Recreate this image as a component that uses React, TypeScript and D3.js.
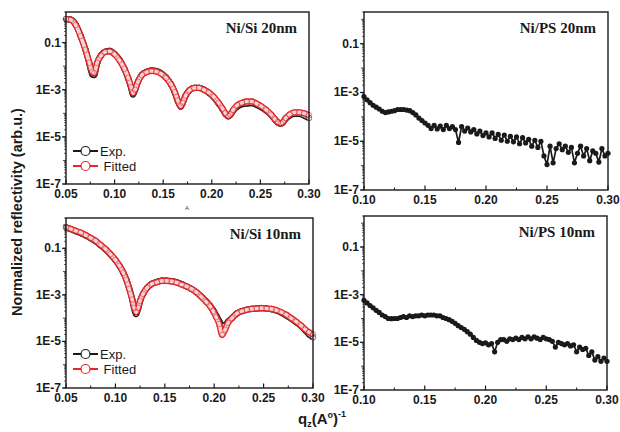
import React from 'react';
import * as d3 from 'd3';

// Ni/Si 20nm, Exp. + fitted
const qSi20 = [0.050, 0.055, 0.060, 0.065, 0.070, 0.074, 0.077, 0.079, 0.082, 0.086, 0.090, 0.095,
	0.100, 0.105, 0.110, 0.114, 0.117, 0.119, 0.121, 0.124, 0.128, 0.133, 0.138, 0.143, 0.148, 0.153,
	0.158, 0.162, 0.165, 0.168, 0.170, 0.173, 0.177, 0.182, 0.187, 0.192, 0.197, 0.202, 0.207, 0.211,
	0.214, 0.217, 0.219, 0.222, 0.226, 0.231, 0.236, 0.241, 0.246, 0.251, 0.256, 0.261, 0.265, 0.268,
	0.271, 0.273, 0.276, 0.280, 0.285, 0.290, 0.295, 0.300];
const expSi20 = [1.0, 0.95, 0.58, 0.2, 0.052, 0.013, 4.5e-3, 4.2e-3, 0.013, 0.029, 0.041, 0.045,
	0.033, 0.019, 8.0e-3, 3.0e-3, 1.2e-3, 6.3e-4, 9.5e-4, 2.2e-3, 4.3e-3, 5.8e-3, 6.6e-3, 6.2e-3, 5.0e-3, 3.3e-3,
	1.7e-3, 7.6e-4, 3.3e-4, 1.9e-4, 2.7e-4, 5.5e-4, 9.5e-4, 1.2e-3, 1.2e-3, 1.0e-3, 7.4e-4, 4.8e-4, 2.6e-4, 1.5e-4,
	9.5e-5, 7.4e-5, 8.5e-5, 1.3e-4, 1.9e-4, 2.4e-4, 2.6e-4, 2.7e-4, 2.3e-4, 1.8e-4, 1.3e-4, 8.5e-5, 5.4e-5, 4.0e-5,
	3.6e-5, 4.0e-5, 5.8e-5, 8.0e-5, 9.5e-5, 9.5e-5, 8.0e-5, 6.3e-5];
const fitSi20 = [1.0, 0.93, 0.56, 0.19, 0.05, 0.014, 5.6e-3, 5.0e-3, 0.014, 0.028, 0.04, 0.043,
	0.032, 0.018, 7.9e-3, 3.2e-3, 1.3e-3, 7.1e-4, 1.0e-3, 2.2e-3, 4.2e-3, 5.6e-3, 6.3e-3, 6.0e-3, 4.8e-3, 3.2e-3,
	1.7e-3, 7.9e-4, 3.5e-4, 2.0e-4, 2.8e-4, 5.6e-4, 9.5e-4, 1.2e-3, 1.2e-3, 1.0e-3, 7.6e-4, 5.0e-4, 2.8e-4, 1.6e-4,
	1.0e-4, 7.6e-5, 8.9e-5, 1.4e-4, 2.2e-4, 2.8e-4, 3.2e-4, 3.2e-4, 2.6e-4, 2.0e-4, 1.4e-4, 8.9e-5, 5.6e-5, 4.2e-5,
	3.7e-5, 4.2e-5, 6.3e-5, 8.9e-5, 1.1e-4, 1.1e-4, 1.0e-4, 8.3e-5];

// Ni/Si 10nm, Exp. + fitted
const qSi10 = [0.050, 0.055, 0.060, 0.065, 0.070, 0.075, 0.080, 0.085, 0.090, 0.095, 0.100,
	0.104, 0.108, 0.111, 0.114, 0.117, 0.119, 0.121, 0.123, 0.125, 0.128,
	0.132, 0.137, 0.142, 0.147, 0.152, 0.157, 0.162, 0.167, 0.172, 0.177, 0.182, 0.187, 0.192,
	0.196, 0.199, 0.202, 0.205, 0.208, 0.211, 0.214, 0.218,
	0.223, 0.228, 0.233, 0.238, 0.243, 0.248, 0.253, 0.258, 0.263, 0.268, 0.273, 0.278, 0.283, 0.288,
	0.292, 0.296, 0.300];
const expSi10 = [0.78, 0.66, 0.54, 0.45, 0.35, 0.27, 0.2, 0.135, 0.09, 0.055, 0.031,
	0.018, 9.0e-3, 4.6e-3, 1.9e-3, 6.6e-4, 2.6e-4, 1.5e-4, 2.5e-4, 5.4e-4, 1.1e-3,
	2.0e-3, 3.0e-3, 3.6e-3, 4.1e-3, 4.1e-3, 3.9e-3, 3.5e-3, 2.9e-3, 2.3e-3, 1.8e-3, 1.3e-3, 8.5e-4, 5.2e-4,
	3.4e-4, 2.2e-4, 1.3e-4, 7.6e-5, 4.8e-5, 5.0e-5, 7.1e-5, 1.0e-4,
	1.6e-4, 2.0e-4, 2.3e-4, 2.5e-4, 2.6e-4, 2.7e-4, 2.6e-4, 2.4e-4, 2.1e-4, 1.7e-4, 1.3e-4, 9.5e-5, 6.6e-5, 4.5e-5,
	3.0e-5, 2.0e-5, 1.5e-5];
const fitSi10 = [0.8, 0.68, 0.56, 0.47, 0.37, 0.28, 0.21, 0.14, 0.093, 0.056, 0.032,
	0.018, 8.9e-3, 4.5e-3, 1.8e-3, 6.3e-4, 2.8e-4, 1.8e-4, 2.8e-4, 5.6e-4, 1.1e-3,
	2.0e-3, 3.0e-3, 3.5e-3, 4.0e-3, 4.0e-3, 3.8e-3, 3.4e-3, 2.8e-3, 2.3e-3, 1.8e-3, 1.3e-3, 8.3e-4, 5.0e-4,
	3.2e-4, 2.0e-4, 1.1e-4, 5.6e-5, 1.9e-5, 3.2e-5, 6.3e-5, 1.0e-4,
	1.6e-4, 2.0e-4, 2.3e-4, 2.5e-4, 2.6e-4, 2.7e-4, 2.6e-4, 2.5e-4, 2.2e-4, 1.8e-4, 1.4e-4, 1.0e-4, 7.1e-5, 4.8e-5,
	3.3e-5, 2.5e-5, 2.0e-5];

// Ni/PS measurements share one q grid
const qPS = [0.1, 0.1025, 0.105, 0.1075, 0.11, 0.1125, 0.115, 0.1175, 0.12, 0.1225, 0.125, 0.1275,
	0.13, 0.1325, 0.135, 0.1375, 0.14, 0.1425, 0.145, 0.1475, 0.15, 0.1525, 0.155, 0.1575,
	0.16, 0.1625, 0.165, 0.1675, 0.17, 0.1725, 0.175, 0.1775, 0.18, 0.1825, 0.185, 0.1875,
	0.19, 0.1925, 0.195, 0.1975, 0.2, 0.2025, 0.205, 0.2075, 0.21, 0.2125, 0.215, 0.2175,
	0.22, 0.2225, 0.225, 0.2275, 0.23, 0.2325, 0.235, 0.2375, 0.24, 0.2425, 0.245, 0.2475,
	0.25, 0.2525, 0.255, 0.2575, 0.26, 0.2625, 0.265, 0.2675, 0.27, 0.2725, 0.275, 0.2775,
	0.28, 0.2825, 0.285, 0.2875, 0.29, 0.2925, 0.295, 0.2975, 0.3];
const ps20 = [6.8e-4, 5.0e-4, 3.8e-4, 3.0e-4, 2.5e-4, 2.1e-4, 1.7e-4, 1.5e-4, 1.6e-4, 1.7e-4, 1.8e-4, 2.0e-4,
	2.0e-4, 2.0e-4, 1.9e-4, 1.8e-4, 1.5e-4, 1.2e-4, 8.9e-5, 7.1e-5, 5.6e-5, 4.5e-5, 3.3e-5, 4.5e-5,
	3.2e-5, 4.2e-5, 3.0e-5, 4.5e-5, 3.3e-5, 4.0e-5, 3.0e-5, 8.9e-6, 4.0e-5, 2.6e-5, 3.5e-5, 2.4e-5,
	3.0e-5, 2.0e-5, 2.6e-5, 1.7e-5, 2.2e-5, 1.5e-5, 2.2e-5, 1.3e-5, 1.9e-5, 1.1e-5, 1.8e-5, 1.0e-5,
	1.6e-5, 9.5e-6, 1.5e-5, 7.9e-6, 1.4e-5, 8.5e-6, 1.2e-5, 6.3e-6, 1.1e-5, 5.6e-6, 1.0e-5, 2.5e-6,
	1.1e-6, 6.3e-6, 1.3e-6, 5.0e-6, 7.9e-6, 4.5e-6, 6.3e-6, 3.5e-6, 5.6e-6, 1.3e-6, 3.2e-6, 6.3e-6,
	2.5e-6, 5.0e-6, 1.6e-6, 4.0e-6, 3.2e-6, 1.4e-6, 5.0e-6, 2.5e-6, 3.2e-6];
const ps10 = [5.8e-4, 4.5e-4, 3.5e-4, 2.8e-4, 2.2e-4, 1.8e-4, 1.4e-4, 1.2e-4, 1.0e-4, 9.8e-5, 1.0e-4, 1.0e-4,
	1.1e-4, 1.2e-4, 1.1e-4, 1.3e-4, 1.2e-4, 1.3e-4, 1.3e-4, 1.4e-4, 1.3e-4, 1.4e-4, 1.4e-4, 1.4e-4,
	1.3e-4, 1.3e-4, 1.1e-4, 1.0e-4, 8.9e-5, 7.6e-5, 6.3e-5, 5.0e-5, 4.2e-5, 3.5e-5, 2.8e-5, 2.2e-5,
	1.6e-5, 1.2e-5, 1.0e-5, 8.9e-6, 9.5e-6, 7.9e-6, 8.9e-6, 4.0e-6, 1.0e-5, 1.3e-5, 1.3e-5, 1.1e-5,
	1.4e-5, 1.3e-5, 1.5e-5, 1.3e-5, 1.6e-5, 1.4e-5, 1.7e-5, 1.4e-5, 1.7e-5, 1.5e-5, 1.3e-5, 1.6e-5,
	1.4e-5, 1.3e-5, 1.1e-5, 6.3e-6, 1.0e-5, 8.9e-6, 7.9e-6, 8.9e-6, 7.1e-6, 7.9e-6, 4.0e-6, 6.3e-6,
	5.0e-6, 5.6e-6, 2.8e-6, 4.0e-6, 1.8e-6, 2.5e-6, 1.6e-6, 2.2e-6, 1.6e-6];

const yTicks = [1e-1, 1e-3, 1e-5, 1e-7];
const yTickLabels = ['0.1', '1E-3', '1E-5', '1E-7'];
const xTicksSi = [0.05, 0.10, 0.15, 0.20, 0.25, 0.30];
const xTicksPS = [0.10, 0.15, 0.20, 0.25, 0.30];

const RED = '#e3262a';
const INK = '#1a1a1a';
const SANS = '"Liberation Sans", Arial, sans-serif';
const SERIF = '"Liberation Serif", "Times New Roman", serif';

function Panel({ box, xDomain, xTicks, title, children }) {
	const [x0, y0, x1, y1] = box;
	const x = d3.scaleLinear().domain(xDomain).range([x0, x1]);
	const y = d3.scaleLog().domain([1e-7, 2]).range([y1, y0]);

	// minor y ticks on every decade and its 2..9 subdivisions
	const minorY = [];
	for (let e = -7; e <= 0; e++) {
		for (let m = 1; m <= 9; m++) {
			const v = m * Math.pow(10, e);
			if (v <= 2) minorY.push({ v, decade: m === 1 });
		}
	}
	const step = xTicks[1] - xTicks[0];
	const minorX = xTicks.slice(0, -1).map(t => t + step / 2);

	return (
		<g>
			{children(x, y)}
			<rect x={x0} y={y0} width={x1 - x0} height={y1 - y0} fill="none" stroke={INK} strokeWidth={1.4} />
			{minorY.map((d, i) => (
				<line key={`my${i}`} x1={x0} x2={x0 - (d.decade ? 3 : 1.8)} y1={y(d.v)} y2={y(d.v)} stroke={INK} strokeWidth={0.8} />
			))}
			{yTicks.map((t, i) => (
				<g key={`y${i}`}>
					<line x1={x0} x2={x0 - 4} y1={y(t)} y2={y(t)} stroke={INK} strokeWidth={1.2} />
					<text x={x0 - 5} y={y(t) + 4} textAnchor="end" fontFamily={SANS} fontWeight="bold" fontSize={12} fill={INK}>
						{yTickLabels[i]}
					</text>
				</g>
			))}
			{minorX.map((t, i) => (
				<line key={`mx${i}`} x1={x(t)} x2={x(t)} y1={y1} y2={y1 - 2.5} stroke={INK} strokeWidth={1} />
			))}
			{xTicks.map((t, i) => (
				<g key={`x${i}`}>
					<line x1={x(t)} x2={x(t)} y1={y1} y2={y1 - 4.5} stroke={INK} strokeWidth={1.2} />
					<text x={x(t)} y={y1 + 13.5} textAnchor="middle" fontFamily={SANS} fontWeight="bold" fontSize={12} fill={INK}>
						{d3.format('.2f')(t)}
					</text>
				</g>
			))}
			<text x={x1 - 12} y={y0 + 21} textAnchor="end" fontFamily={SERIF} fontWeight="bold" fontSize={15} fill={INK}>
				{title}
			</text>
		</g>
	);
}

// dense open-circle trace: outlined band + the circles on the data points
function circleSeries(q, r, color, fill, x, y, key) {
	const line = d3.line().x((d, i) => x(q[i])).y(d => y(d)).curve(d3.curveMonotoneX);
	return (
		<g key={key}>
			<path d={line(r)} fill="none" stroke={color} strokeWidth={6.2} strokeLinejoin="round" />
			<path d={line(r)} fill="none" stroke={fill} strokeWidth={3.6} strokeLinejoin="round" />
			{r.map((v, i) => (
				<circle key={i} cx={x(q[i])} cy={y(v)} r={2.8} fill="none" stroke={color} strokeWidth={0.7} strokeOpacity={0.8} />
			))}
		</g>
	);
}

function dotSeries(q, r, x, y) {
	const line = d3.line().x((d, i) => x(q[i])).y(d => y(d));
	return (
		<g>
			<path d={line(r)} fill="none" stroke={INK} strokeWidth={1.7} />
			{r.map((v, i) => (
				<circle key={i} cx={x(q[i])} cy={y(v)} r={2.6} fill={INK} />
			))}
		</g>
	);
}

function Legend({ x, y }) {
	const items = [['Exp.', INK, 0], [' Fitted', RED, 15]];
	return (
		<g>
			{items.map(([label, color, dy]) => (
				<g key={label}>
					<line x1={x} x2={x + 25} y1={y + dy} y2={y + dy} stroke={color} strokeWidth={2} />
					<circle cx={x + 12.5} cy={y + dy} r={4.5} fill="white" stroke={color} strokeWidth={1.2} />
					<text x={x + 27} y={y + dy + 4.5} fontFamily={SANS} fontSize={13} fill={INK} xmlSpace="preserve">
						{label}
					</text>
				</g>
			))}
		</g>
	);
}

export default function App() {
	return (
		<svg width={620} height={432} style={{ position: 'absolute', left: 0, top: 0, background: 'white' }}>
			<Panel box={[66, 12, 309, 184]} xDomain={[0.05, 0.3]} xTicks={xTicksSi} title="Ni/Si 20nm">
				{(x, y) => [circleSeries(qSi20, expSi20, INK, '#d8d8d8', x, y, 'e'), circleSeries(qSi20, fitSi20, RED, '#f5d3d3', x, y, 'f')]}
			</Panel>
			<Legend x={73} y={151} />
			<Panel box={[364, 12, 608, 190]} xDomain={[0.1, 0.3]} xTicks={xTicksPS} title="Ni/PS 20nm">
				{(x, y) => dotSeries(qPS, ps20, x, y)}
			</Panel>
			<Panel box={[66, 218, 313, 388]} xDomain={[0.05, 0.3]} xTicks={xTicksSi} title="Ni/Si 10nm">
				{(x, y) => [circleSeries(qSi10, expSi10, INK, '#d8d8d8', x, y, 'e'), circleSeries(qSi10, fitSi10, RED, '#f5d3d3', x, y, 'f')]}
			</Panel>
			<Legend x={73} y={354} />
			<Panel box={[364, 216, 607, 390]} xDomain={[0.1, 0.3]} xTicks={xTicksPS} title="Ni/PS 10nm">
				{(x, y) => dotSeries(qPS, ps10, x, y)}
			</Panel>
			<text x={187} y={210} fontFamily={SANS} fontSize={6} fill="#444" textAnchor="middle">A</text>
			<text transform="translate(22,212) rotate(-90)" textAnchor="middle" fontFamily={SANS} fontWeight="bold" fontSize={14.5} fill={INK}>
				Normalized reflectivity (arb.u.)
			</text>
			<text x={298} y={424} fontFamily={SANS} fontWeight="bold" fontSize={15} fill={INK}>
				q<tspan fontSize={9} dy={3}>z</tspan><tspan dy={-3}>(A</tspan><tspan fontSize={9} dy={-6}>o</tspan><tspan dy={6}>)</tspan><tspan fontSize={9} dy={-7}>-1</tspan>
			</text>
		</svg>
	);
}
